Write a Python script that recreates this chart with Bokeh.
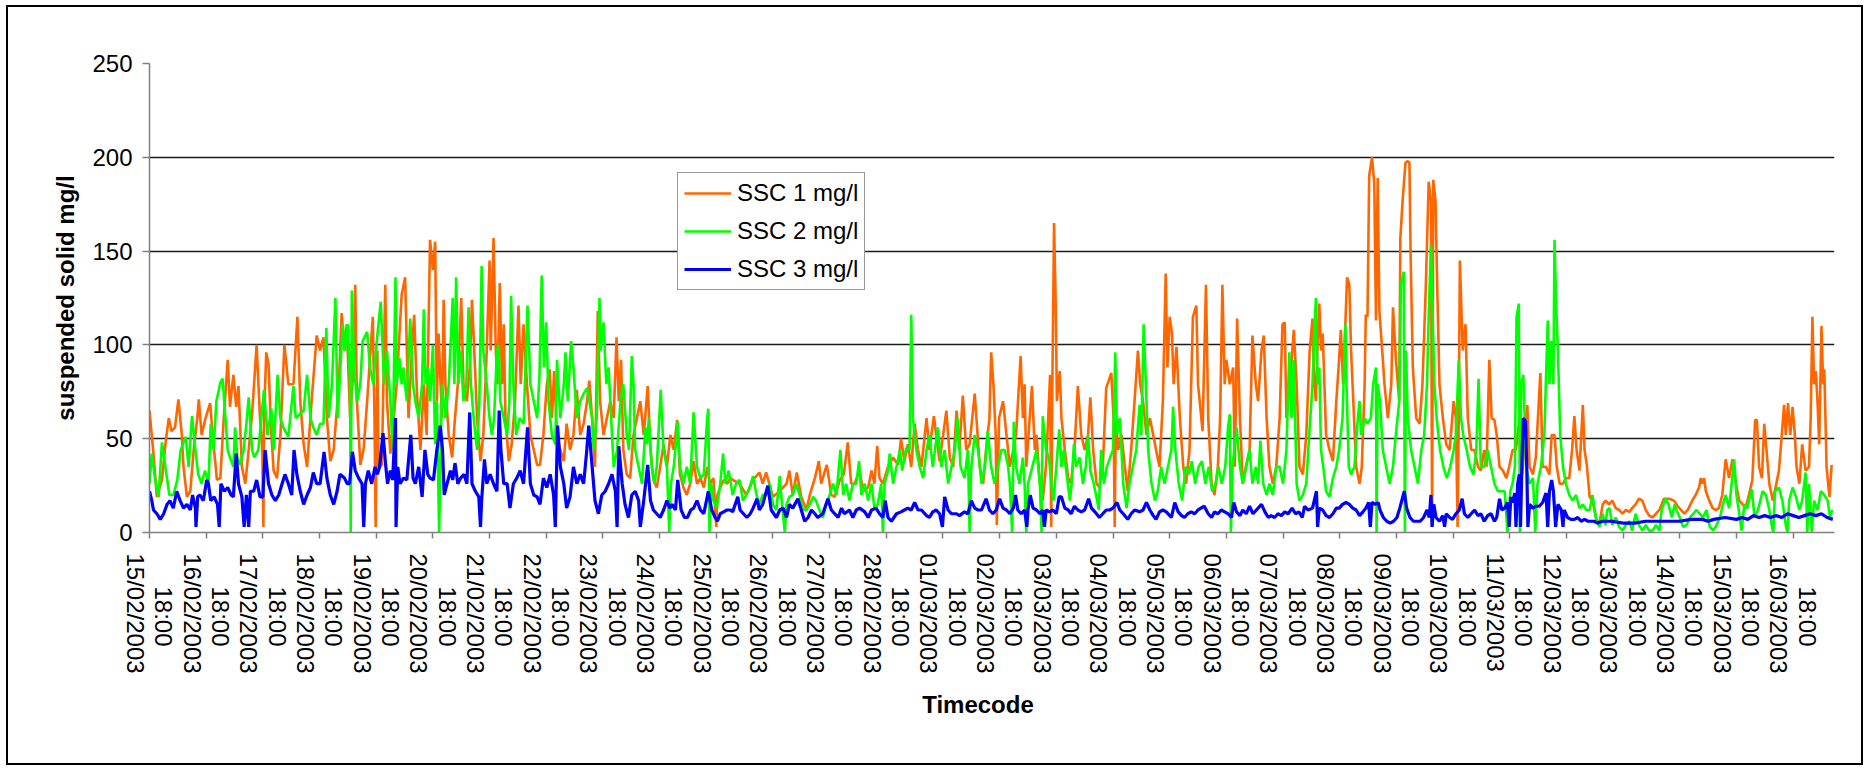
import math
from bokeh.plotting import figure
from bokeh.layouts import column
from bokeh.models import FixedTicker, Legend, LegendItem, Grid, Range1d
from bokeh.embed import file_html
from bokeh.resources import INLINE

# ---------------- data ----------------
day_labels = ["15/02/2003", "16/02/2003", "17/02/2003", "18/02/2003", "19/02/2003",
              "20/02/2003", "21/02/2003", "22/02/2003", "23/02/2003", "24/02/2003",
              "25/02/2003", "26/02/2003", "27/02/2003", "28/02/2003", "01/03/2003",
              "02/03/2003", "03/03/2003", "04/03/2003", "05/03/2003", "06/03/2003",
              "07/03/2003", "08/03/2003", "09/03/2003", "10/03/2003", "11/03/2003",
              "12/03/2003", "13/03/2003", "14/03/2003", "15/03/2003", "16/03/2003"]
hour_label = "18:00"
y_tick_values = [0, 50, 100, 150, 200, 250]
series_names = ["SSC 1 mg/l", "SSC 2 mg/l", "SSC 3 mg/l"]

# (position along the timecode axis, mg/l)
ssc1_samples = [
    (0.00, 65), (0.07, 42), (0.13, 19), (0.22, 28), (0.28, 47), (0.34, 61), (0.39, 54), (0.45, 56), (0.51, 71), (0.57, 52),
    (0.60, 35), (0.66, 19), (0.72, 22), (0.78, 44), (0.84, 60), (0.87, 71), (0.92, 52), (0.98, 60), (1.07, 69), (1.13, 47),
    (1.19, 28), (1.25, 29), (1.31, 61), (1.38, 92), (1.42, 67), (1.48, 84), (1.53, 67), (1.57, 78), (1.63, 35), (1.69, 26),
    (1.75, 44), (1.81, 63), (1.89, 100), (1.95, 61), (1.99, 44), (2.01, 3), (2.02, 61), (2.06, 96), (2.10, 90), (2.14, 58),
    (2.19, 33), (2.25, 29), (2.31, 52), (2.38, 100), (2.45, 79), (2.54, 79), (2.61, 115), (2.66, 70), (2.72, 47), (2.78, 35),
    (2.86, 70), (2.95, 105), (3.01, 97), (3.07, 104), (3.13, 61), (3.19, 38), (3.25, 44), (3.34, 79), (3.39, 117), (3.44, 97),
    (3.48, 111), (3.54, 61), (3.60, 88), (3.63, 132), (3.66, 70), (3.72, 36), (3.78, 45), (3.84, 70), (3.94, 115), (3.97, 61),
    (3.99, 3), (4.01, 61), (4.02, 97), (4.04, 35), (4.10, 36), (4.16, 132), (4.19, 70), (4.25, 42), (4.31, 61), (4.36, 79),
    (4.45, 127), (4.51, 136), (4.57, 61), (4.63, 97), (4.67, 116), (4.72, 74), (4.78, 44), (4.84, 79), (4.89, 52), (4.95, 156),
    (5.00, 140), (5.04, 155), (5.07, 70), (5.10, 106), (5.16, 61), (5.19, 124), (5.22, 79), (5.28, 52), (5.34, 40), (5.39, 61),
    (5.44, 79), (5.50, 125), (5.54, 79), (5.60, 70), (5.65, 88), (5.69, 124), (5.73, 97), (5.78, 61), (5.84, 38), (5.89, 52),
    (5.95, 97), (6.00, 145), (6.02, 97), (6.07, 157), (6.11, 97), (6.14, 79), (6.18, 133), (6.22, 79), (6.25, 111), (6.28, 61),
    (6.34, 38), (6.39, 47), (6.45, 70), (6.51, 121), (6.55, 79), (6.60, 111), (6.66, 79), (6.72, 52), (6.78, 44), (6.84, 36),
    (6.89, 36), (6.95, 52), (7.01, 79), (7.06, 87), (7.10, 61), (7.14, 86), (7.19, 52), (7.25, 44), (7.31, 38), (7.36, 58),
    (7.42, 44), (7.48, 52), (7.54, 76), (7.60, 52), (7.66, 58), (7.72, 70), (7.76, 81), (7.81, 61), (7.86, 35), (7.91, 118),
    (7.95, 70), (8.01, 52), (8.07, 61), (8.13, 70), (8.19, 61), (8.24, 104), (8.28, 70), (8.32, 92), (8.36, 44), (8.42, 31),
    (8.48, 29), (8.54, 52), (8.60, 61), (8.66, 70), (8.72, 52), (8.79, 78), (8.84, 44), (8.89, 28), (8.95, 24), (9.01, 35),
    (9.07, 47), (9.13, 35), (9.19, 52), (9.25, 44), (9.31, 60), (9.36, 31), (9.42, 24), (9.48, 20), (9.54, 26), (9.60, 38),
    (9.66, 26), (9.72, 29), (9.78, 24), (9.84, 35), (9.89, 26), (9.95, 29), (10.00, 3), (10.02, 20), (10.07, 24), (10.13, 28),
    (10.19, 26), (10.25, 29), (10.29, 28), (10.41, 26), (10.53, 20), (10.65, 28), (10.76, 32), (10.82, 26), (10.88, 32), (11.00, 19),
    (11.12, 22), (11.24, 26), (11.29, 33), (11.35, 20), (11.42, 32), (11.50, 19), (11.59, 12), (11.65, 20), (11.74, 29), (11.81, 38),
    (11.85, 26), (11.95, 36), (12.03, 20), (12.09, 19), (12.18, 28), (12.25, 31), (12.32, 48), (12.38, 26), (12.44, 26), (12.53, 33),
    (12.59, 22), (12.68, 24), (12.74, 33), (12.79, 26), (12.84, 46), (12.88, 29), (12.94, 26), (13.03, 35), (13.12, 40), (13.21, 36),
    (13.26, 50), (13.32, 38), (13.38, 47), (13.44, 35), (13.50, 58), (13.56, 44), (13.62, 35), (13.71, 61), (13.76, 44), (13.84, 62),
    (13.88, 52), (13.94, 38), (14.06, 65), (14.12, 40), (14.18, 35), (14.24, 65), (14.29, 44), (14.35, 73), (14.41, 44), (14.47, 47),
    (14.56, 74), (14.65, 35), (14.71, 26), (14.76, 44), (14.82, 61), (14.85, 96), (14.89, 79), (14.93, 52), (14.95, 4), (14.99, 61),
    (15.06, 70), (15.12, 52), (15.18, 35), (15.24, 44), (15.29, 52), (15.37, 94), (15.41, 61), (15.44, 79), (15.47, 35), (15.53, 61),
    (15.57, 78), (15.62, 44), (15.65, 52), (15.71, 26), (15.76, 17), (15.82, 36), (15.89, 84), (15.91, 3), (15.93, 79), (15.96, 165),
    (15.99, 120), (16.01, 70), (16.06, 86), (16.09, 61), (16.15, 44), (16.21, 29), (16.26, 26), (16.32, 44), (16.38, 78), (16.44, 52),
    (16.50, 44), (16.56, 52), (16.60, 72), (16.65, 44), (16.71, 26), (16.76, 24), (16.82, 35), (16.88, 77), (16.97, 85), (17.01, 61),
    (17.03, 3), (17.05, 61), (17.09, 44), (17.15, 52), (17.21, 35), (17.26, 22), (17.32, 44), (17.38, 70), (17.44, 97), (17.48, 79),
    (17.53, 70), (17.59, 52), (17.65, 61), (17.71, 52), (17.76, 44), (17.82, 35), (17.88, 70), (17.93, 138), (17.96, 88), (18.00, 115),
    (18.04, 106), (18.07, 79), (18.12, 99), (18.18, 61), (18.24, 35), (18.29, 26), (18.35, 44), (18.41, 115), (18.47, 121), (18.50, 79),
    (18.53, 70), (18.58, 54), (18.64, 132), (18.68, 61), (18.74, 26), (18.79, 20), (18.85, 35), (18.89, 61), (18.93, 132), (18.97, 79),
    (19.00, 92), (19.06, 79), (19.12, 88), (19.15, 35), (19.19, 114), (19.24, 61), (19.29, 26), (19.35, 36), (19.41, 44), (19.46, 105),
    (19.52, 79), (19.56, 70), (19.62, 97), (19.66, 105), (19.71, 61), (19.76, 35), (19.82, 26), (19.88, 35), (19.94, 61), (19.99, 111),
    (20.03, 112), (20.06, 61), (20.12, 79), (20.19, 108), (20.24, 79), (20.29, 35), (20.35, 31), (20.41, 52), (20.47, 97), (20.52, 114),
    (20.55, 79), (20.58, 70), (20.61, 102), (20.64, 122), (20.67, 97), (20.70, 106), (20.73, 79), (20.76, 52), (20.82, 44), (20.88, 38),
    (20.94, 70), (20.98, 88), (21.02, 108), (21.06, 79), (21.13, 136), (21.17, 132), (21.20, 97), (21.24, 70), (21.29, 35), (21.35, 26),
    (21.39, 35), (21.44, 79), (21.46, 116), (21.49, 115), (21.52, 190), (21.57, 200), (21.61, 186), (21.64, 113), (21.67, 189), (21.70, 118),
    (21.75, 97), (21.79, 79), (21.85, 61), (21.91, 79), (21.94, 120), (21.99, 93), (22.05, 70), (22.07, 157), (22.11, 177), (22.16, 197),
    (22.20, 198), (22.23, 197), (22.25, 150), (22.29, 88), (22.35, 61), (22.41, 58), (22.46, 79), (22.52, 132), (22.57, 187), (22.61, 177),
    (22.63, 3), (22.65, 188), (22.69, 177), (22.72, 132), (22.76, 79), (22.82, 61), (22.88, 47), (22.94, 44), (23.01, 70), (23.05, 61),
    (23.08, 3), (23.10, 61), (23.12, 145), (23.17, 97), (23.22, 111), (23.26, 61), (23.32, 44), (23.38, 44), (23.44, 35), (23.49, 33),
    (23.55, 44), (23.59, 35), (23.64, 92), (23.68, 61), (23.73, 60), (23.77, 52), (23.82, 35), (23.88, 33), (23.94, 29), (23.99, 35),
    (24.05, 44), (24.11, 44), (24.17, 61), (24.22, 31), (24.31, 68), (24.35, 35), (24.41, 31), (24.46, 40), (24.54, 85), (24.58, 35),
    (24.64, 35), (24.70, 31), (24.74, 52), (24.79, 52), (24.83, 35), (24.88, 26), (24.94, 26), (24.99, 29), (25.05, 29), (25.10, 44),
    (25.14, 62), (25.18, 44), (25.23, 33), (25.29, 68), (25.32, 44), (25.36, 36), (25.41, 19), (25.46, 17), (25.52, 8), (25.58, 4),
    (25.64, 15), (25.69, 17), (25.75, 15), (25.81, 17), (25.87, 13), (25.93, 12), (25.99, 10), (26.05, 12), (26.11, 11), (26.16, 13),
    (26.22, 15), (26.28, 18), (26.34, 17), (26.40, 12), (26.46, 9), (26.52, 8), (26.58, 10), (26.64, 12), (26.72, 18), (26.81, 18),
    (26.90, 17), (26.96, 14), (27.02, 12), (27.08, 10), (27.14, 12), (27.22, 17), (27.28, 20), (27.34, 24), (27.37, 29), (27.40, 26),
    (27.43, 29), (27.46, 22), (27.52, 17), (27.58, 13), (27.64, 12), (27.69, 13), (27.75, 20), (27.81, 39), (27.87, 29), (27.93, 39),
    (27.99, 26), (28.05, 17), (28.11, 15), (28.16, 13), (28.22, 20), (28.28, 28), (28.33, 60), (28.36, 60), (28.40, 35), (28.45, 29),
    (28.49, 58), (28.53, 44), (28.58, 26), (28.64, 17), (28.69, 24), (28.75, 33), (28.80, 52), (28.84, 68), (28.87, 52), (28.91, 69),
    (28.95, 52), (28.99, 67), (29.03, 52), (29.06, 35), (29.11, 26), (29.16, 47), (29.22, 33), (29.28, 35), (29.31, 61), (29.34, 115),
    (29.37, 79), (29.40, 86), (29.43, 70), (29.46, 47), (29.50, 110), (29.53, 79), (29.55, 87), (29.59, 35), (29.64, 19), (29.68, 36),
]

ssc2_samples = [
    (0.00, 26), (0.04, 42), (0.10, 28), (0.16, 19), (0.22, 48), (0.28, 35), (0.35, 20), (0.42, 20), (0.49, 28), (0.55, 44),
    (0.64, 51), (0.69, 35), (0.75, 62), (0.81, 44), (0.86, 31), (0.92, 26), (0.98, 33), (1.04, 26), (1.08, 58), (1.13, 44),
    (1.18, 70), (1.25, 80), (1.29, 82), (1.34, 61), (1.38, 44), (1.42, 40), (1.48, 35), (1.51, 56), (1.55, 40), (1.60, 36),
    (1.66, 44), (1.71, 58), (1.75, 72), (1.81, 44), (1.85, 40), (1.92, 44), (2.02, 76), (2.08, 52), (2.15, 66), (2.19, 44),
    (2.26, 84), (2.31, 61), (2.36, 56), (2.45, 51), (2.54, 78), (2.58, 61), (2.65, 63), (2.72, 65), (2.78, 84), (2.84, 61),
    (2.89, 56), (2.95, 52), (3.01, 58), (3.07, 58), (3.12, 109), (3.16, 61), (3.22, 79), (3.28, 125), (3.32, 61), (3.36, 83),
    (3.41, 111), (3.45, 97), (3.50, 111), (3.54, 79), (3.55, 0), (3.57, 129), (3.61, 88), (3.66, 70), (3.72, 79), (3.76, 102),
    (3.84, 107), (3.89, 88), (3.95, 79), (4.01, 102), (4.08, 123), (4.14, 79), (4.19, 97), (4.25, 70), (4.29, 44), (4.34, 136),
    (4.36, 79), (4.41, 93), (4.45, 79), (4.48, 88), (4.54, 70), (4.60, 114), (4.65, 79), (4.69, 70), (4.75, 61), (4.81, 79),
    (4.84, 119), (4.87, 79), (4.91, 88), (4.95, 70), (5.00, 100), (5.04, 47), (5.07, 70), (5.11, 0), (5.16, 79), (5.22, 61),
    (5.28, 79), (5.35, 125), (5.38, 79), (5.41, 136), (5.45, 79), (5.49, 97), (5.54, 70), (5.59, 79), (5.63, 120), (5.67, 79),
    (5.72, 61), (5.78, 44), (5.82, 70), (5.86, 142), (5.89, 97), (5.95, 79), (6.00, 61), (6.04, 52), (6.08, 61), (6.13, 97),
    (6.16, 100), (6.19, 70), (6.25, 61), (6.31, 52), (6.35, 70), (6.38, 126), (6.42, 79), (6.47, 52), (6.53, 61), (6.60, 58),
    (6.67, 121), (6.72, 79), (6.78, 70), (6.84, 61), (6.88, 83), (6.92, 137), (6.96, 88), (7.00, 112), (7.04, 70), (7.10, 52),
    (7.16, 47), (7.19, 92), (7.25, 61), (7.31, 79), (7.34, 96), (7.38, 70), (7.44, 102), (7.48, 88), (7.54, 61), (7.60, 70),
    (7.66, 74), (7.72, 77), (7.76, 70), (7.81, 61), (7.84, 44), (7.89, 61), (7.94, 125), (7.96, 97), (8.01, 112), (8.06, 79),
    (8.10, 88), (8.13, 70), (8.19, 35), (8.25, 44), (8.31, 70), (8.36, 79), (8.42, 52), (8.46, 44), (8.51, 94), (8.54, 79),
    (8.57, 44), (8.63, 35), (8.69, 26), (8.75, 56), (8.78, 47), (8.81, 61), (8.86, 35), (8.91, 26), (8.95, 35), (9.02, 76),
    (9.07, 44), (9.13, 35), (9.17, 0), (9.20, 26), (9.25, 35), (9.32, 59), (9.36, 35), (9.42, 26), (9.48, 35), (9.54, 26),
    (9.60, 64), (9.66, 35), (9.72, 29), (9.78, 31), (9.84, 61), (9.86, 66), (9.88, 0), (9.91, 26), (9.95, 17), (10.01, 13),
    (10.07, 26), (10.12, 42), (10.16, 26), (10.22, 33), (10.29, 20), (10.35, 26), (10.41, 28), (10.47, 17), (10.53, 20), (10.59, 24),
    (10.65, 30), (10.71, 20), (10.76, 15), (10.82, 20), (10.88, 20), (10.94, 26), (11.00, 15), (11.06, 12), (11.12, 30), (11.16, 15),
    (11.21, 0), (11.24, 15), (11.29, 19), (11.35, 20), (11.41, 26), (11.47, 20), (11.53, 12), (11.59, 12), (11.65, 15), (11.71, 19),
    (11.76, 17), (11.82, 12), (11.88, 8), (11.94, 15), (12.00, 20), (12.06, 26), (12.12, 20), (12.19, 44), (12.24, 20), (12.29, 26),
    (12.35, 17), (12.41, 26), (12.47, 26), (12.52, 38), (12.56, 20), (12.62, 26), (12.68, 17), (12.74, 26), (12.79, 13), (12.85, 15),
    (12.91, 26), (12.94, 0), (12.97, 26), (13.03, 33), (13.06, 42), (13.12, 26), (13.18, 35), (13.24, 44), (13.28, 33), (13.35, 45),
    (13.41, 44), (13.44, 116), (13.47, 61), (13.53, 44), (13.59, 35), (13.65, 29), (13.71, 44), (13.76, 52), (13.82, 35), (13.91, 56),
    (13.97, 35), (14.03, 44), (14.09, 26), (14.15, 35), (14.21, 44), (14.26, 61), (14.31, 35), (14.38, 29), (14.44, 44), (14.47, 0),
    (14.50, 35), (14.56, 52), (14.62, 44), (14.68, 26), (14.74, 35), (14.79, 54), (14.85, 35), (14.91, 26), (14.97, 35), (15.03, 44),
    (15.09, 44), (15.15, 35), (15.18, 26), (15.22, 0), (15.25, 59), (15.29, 35), (15.35, 26), (15.41, 40), (15.44, 26), (15.47, 0),
    (15.50, 26), (15.56, 33), (15.65, 44), (15.71, 26), (15.74, 0), (15.76, 62), (15.82, 44), (15.87, 40), (15.91, 26), (15.95, 17),
    (16.00, 35), (16.05, 55), (16.09, 35), (16.13, 44), (16.19, 29), (16.24, 17), (16.27, 26), (16.31, 47), (16.35, 35), (16.41, 40),
    (16.47, 26), (16.52, 35), (16.56, 52), (16.60, 33), (16.66, 26), (16.72, 17), (16.75, 12), (16.79, 44), (16.84, 26), (16.89, 35),
    (16.95, 40), (17.00, 44), (17.04, 96), (17.07, 52), (17.12, 61), (17.18, 26), (17.24, 13), (17.29, 26), (17.35, 35), (17.41, 44),
    (17.47, 68), (17.50, 52), (17.54, 111), (17.58, 79), (17.62, 44), (17.68, 26), (17.74, 17), (17.79, 22), (17.85, 35), (17.91, 26),
    (17.97, 35), (18.03, 44), (18.06, 67), (18.10, 44), (18.16, 26), (18.22, 17), (18.28, 35), (18.34, 31), (18.39, 38), (18.45, 26),
    (18.51, 35), (18.57, 38), (18.63, 26), (18.69, 35), (18.75, 22), (18.81, 26), (18.86, 35), (18.92, 26), (18.98, 35), (19.03, 56),
    (19.06, 63), (19.08, 0), (19.11, 35), (19.18, 56), (19.24, 35), (19.29, 26), (19.35, 35), (19.41, 44), (19.46, 26), (19.52, 35),
    (19.56, 26), (19.60, 49), (19.65, 26), (19.71, 20), (19.76, 26), (19.82, 20), (19.88, 35), (19.94, 35), (20.00, 26), (20.06, 44),
    (20.11, 96), (20.15, 61), (20.19, 92), (20.24, 26), (20.29, 17), (20.35, 20), (20.41, 26), (20.47, 56), (20.52, 79), (20.55, 106),
    (20.58, 125), (20.61, 79), (20.64, 88), (20.67, 44), (20.71, 35), (20.76, 22), (20.82, 19), (20.88, 29), (20.94, 35), (20.99, 44),
    (21.05, 61), (21.10, 111), (21.12, 79), (21.16, 35), (21.20, 31), (21.26, 35), (21.32, 61), (21.35, 70), (21.38, 52), (21.44, 61),
    (21.49, 58), (21.55, 61), (21.59, 79), (21.64, 88), (21.65, 0), (21.67, 79), (21.71, 70), (21.76, 44), (21.82, 35), (21.88, 26),
    (21.94, 35), (21.99, 52), (22.05, 70), (22.08, 132), (22.13, 139), (22.15, 0), (22.17, 97), (22.20, 61), (22.26, 44), (22.32, 35),
    (22.38, 26), (22.44, 44), (22.49, 52), (22.54, 79), (22.57, 115), (22.61, 153), (22.64, 115), (22.67, 79), (22.71, 61), (22.77, 44),
    (22.83, 35), (22.89, 29), (22.95, 35), (23.01, 44), (23.05, 52), (23.10, 92), (23.14, 61), (23.18, 52), (23.24, 44), (23.30, 35),
    (23.36, 31), (23.41, 44), (23.45, 82), (23.49, 35), (23.55, 35), (23.61, 44), (23.67, 35), (23.73, 26), (23.79, 22), (23.85, 22),
    (23.91, 22), (23.96, 0), (24.01, 22), (24.05, 26), (24.09, 35), (24.12, 115), (24.16, 122), (24.18, 0), (24.20, 79), (24.24, 84),
    (24.29, 35), (24.35, 26), (24.41, 29), (24.45, 0), (24.49, 26), (24.55, 35), (24.61, 52), (24.67, 113), (24.70, 79), (24.73, 102),
    (24.77, 79), (24.79, 156), (24.82, 120), (24.85, 97), (24.89, 52), (24.94, 35), (24.99, 26), (25.05, 20), (25.11, 17), (25.17, 20),
    (25.23, 13), (25.29, 15), (25.35, 12), (25.41, 12), (25.46, 20), (25.52, 8), (25.58, 3), (25.64, 10), (25.69, 4), (25.72, 12),
    (25.76, 13), (25.81, 4), (25.87, 8), (25.93, 3), (25.99, 1), (26.05, 4), (26.11, 6), (26.16, 1), (26.22, 10), (26.28, 4),
    (26.34, 1), (26.40, 4), (26.46, 1), (26.52, 1), (26.58, 4), (26.64, 1), (26.68, 12), (26.75, 18), (26.80, 15), (26.86, 8),
    (26.91, 15), (26.94, 12), (27.00, 8), (27.06, 3), (27.12, 4), (27.18, 8), (27.24, 10), (27.29, 12), (27.35, 10), (27.41, 8),
    (27.47, 12), (27.53, 3), (27.59, 1), (27.65, 4), (27.71, 8), (27.76, 15), (27.81, 20), (27.87, 13), (27.96, 39), (28.00, 20),
    (28.05, 10), (28.09, 1), (28.14, 15), (28.19, 13), (28.27, 23), (28.32, 8), (28.38, 12), (28.46, 22), (28.52, 20), (28.58, 12),
    (28.62, 4), (28.65, 0), (28.68, 22), (28.75, 24), (28.81, 17), (28.87, 4), (28.90, 0), (28.93, 17), (28.99, 24), (29.05, 19),
    (29.11, 12), (29.16, 17), (29.22, 32), (29.25, 0), (29.28, 26), (29.33, 0), (29.37, 17), (29.43, 12), (29.49, 22), (29.55, 20),
    (29.61, 17), (29.65, 8), (29.69, 12),
]

ssc3_samples = [
    (0.00, 22), (0.04, 17), (0.07, 12), (0.13, 10), (0.19, 7), (0.25, 10), (0.31, 15), (0.36, 17), (0.42, 13), (0.48, 22),
    (0.54, 17), (0.60, 13), (0.66, 15), (0.72, 12), (0.76, 20), (0.81, 13), (0.82, 3), (0.85, 19), (0.89, 20), (0.95, 17),
    (1.01, 28), (1.04, 26), (1.08, 17), (1.14, 19), (1.20, 15), (1.23, 3), (1.26, 26), (1.32, 22), (1.38, 24), (1.44, 20),
    (1.48, 19), (1.53, 42), (1.57, 26), (1.63, 19), (1.67, 3), (1.71, 20), (1.75, 3), (1.78, 22), (1.84, 22), (1.89, 28),
    (1.95, 19), (2.00, 19), (2.04, 44), (2.10, 26), (2.16, 20), (2.22, 17), (2.28, 20), (2.34, 26), (2.39, 31), (2.45, 26),
    (2.51, 20), (2.55, 44), (2.60, 31), (2.66, 22), (2.72, 15), (2.78, 20), (2.84, 24), (2.89, 32), (2.95, 26), (3.01, 26),
    (3.08, 43), (3.13, 29), (3.19, 20), (3.25, 15), (3.31, 22), (3.36, 31), (3.44, 29), (3.49, 26), (3.53, 26), (3.58, 43),
    (3.63, 33), (3.69, 29), (3.75, 26), (3.78, 3), (3.81, 26), (3.86, 33), (3.92, 26), (3.98, 35), (4.02, 31), (4.06, 35),
    (4.12, 53), (4.16, 38), (4.20, 26), (4.25, 33), (4.29, 28), (4.34, 61), (4.35, 3), (4.38, 35), (4.42, 26), (4.48, 29),
    (4.54, 28), (4.61, 52), (4.65, 29), (4.69, 26), (4.75, 35), (4.81, 19), (4.86, 44), (4.91, 31), (4.95, 29), (5.01, 28),
    (5.07, 44), (5.13, 57), (5.17, 44), (5.20, 20), (5.25, 26), (5.31, 33), (5.35, 28), (5.39, 37), (5.44, 26), (5.49, 29),
    (5.55, 31), (5.60, 26), (5.65, 64), (5.69, 26), (5.75, 22), (5.81, 19), (5.84, 3), (5.86, 17), (5.91, 39), (5.95, 26),
    (6.01, 31), (6.07, 26), (6.13, 22), (6.17, 65), (6.20, 44), (6.25, 26), (6.31, 26), (6.36, 13), (6.42, 26), (6.48, 29),
    (6.54, 33), (6.60, 26), (6.67, 56), (6.72, 26), (6.78, 20), (6.84, 19), (6.89, 15), (6.95, 29), (7.01, 24), (7.07, 31),
    (7.13, 20), (7.16, 3), (7.20, 57), (7.25, 35), (7.31, 26), (7.36, 13), (7.42, 19), (7.48, 35), (7.54, 26), (7.60, 31),
    (7.66, 26), (7.71, 42), (7.75, 57), (7.81, 35), (7.86, 17), (7.92, 10), (7.98, 20), (8.04, 22), (8.10, 26), (8.16, 31),
    (8.22, 22), (8.25, 3), (8.28, 46), (8.34, 26), (8.39, 15), (8.45, 8), (8.51, 20), (8.57, 22), (8.63, 17), (8.66, 3),
    (8.72, 17), (8.79, 36), (8.84, 17), (8.89, 12), (8.95, 10), (9.01, 8), (9.07, 12), (9.13, 17), (9.18, 13), (9.22, 15),
    (9.28, 12), (9.32, 28), (9.38, 12), (9.44, 8), (9.49, 8), (9.55, 12), (9.60, 13), (9.66, 17), (9.72, 12), (9.78, 10),
    (9.86, 22), (9.92, 12), (9.98, 8), (10.02, 6), (10.07, 10), (10.13, 11), (10.19, 12), (10.25, 12), (10.29, 11), (10.38, 19),
    (10.42, 12), (10.48, 10), (10.54, 8), (10.60, 10), (10.65, 13), (10.72, 18), (10.76, 12), (10.82, 15), (10.91, 25), (10.97, 12),
    (11.06, 8), (11.12, 12), (11.18, 13), (11.24, 8), (11.29, 15), (11.35, 13), (11.44, 18), (11.50, 12), (11.56, 6), (11.62, 8),
    (11.68, 12), (11.74, 10), (11.79, 8), (11.88, 10), (11.97, 18), (12.03, 12), (12.09, 10), (12.15, 8), (12.21, 13), (12.26, 10),
    (12.35, 12), (12.41, 8), (12.47, 12), (12.53, 13), (12.62, 11), (12.68, 8), (12.74, 12), (12.82, 13), (12.88, 10), (12.94, 8),
    (12.98, 17), (13.03, 8), (13.09, 6), (13.18, 10), (13.26, 11), (13.32, 12), (13.38, 13), (13.44, 12), (13.50, 16), (13.56, 12),
    (13.62, 12), (13.71, 9), (13.76, 8), (13.82, 11), (13.88, 12), (13.94, 10), (13.99, 3), (14.03, 19), (14.09, 12), (14.15, 10),
    (14.24, 10), (14.29, 9), (14.38, 11), (14.44, 10), (14.50, 17), (14.56, 13), (14.62, 12), (14.68, 12), (14.76, 18), (14.82, 12),
    (14.88, 10), (14.94, 12), (15.00, 18), (15.06, 13), (15.12, 12), (15.18, 10), (15.24, 13), (15.28, 20), (15.32, 12), (15.38, 10),
    (15.44, 12), (15.48, 3), (15.50, 12), (15.54, 20), (15.59, 13), (15.65, 12), (15.71, 10), (15.76, 12), (15.79, 3), (15.82, 12),
    (15.88, 11), (15.94, 12), (16.00, 10), (16.05, 19), (16.09, 19), (16.15, 13), (16.21, 12), (16.26, 10), (16.32, 14), (16.38, 12),
    (16.44, 11), (16.50, 12), (16.57, 18), (16.62, 13), (16.68, 11), (16.76, 8), (16.82, 10), (16.88, 12), (16.94, 12), (17.00, 13),
    (17.07, 16), (17.12, 12), (17.18, 10), (17.26, 7), (17.32, 10), (17.38, 12), (17.47, 11), (17.53, 12), (17.59, 16), (17.65, 12),
    (17.71, 9), (17.76, 7), (17.82, 11), (17.88, 12), (17.94, 11), (18.03, 8), (18.09, 16), (18.15, 11), (18.21, 9), (18.26, 8),
    (18.32, 10), (18.38, 11), (18.44, 10), (18.50, 12), (18.61, 14), (18.68, 10), (18.74, 8), (18.79, 11), (18.85, 10), (18.91, 12),
    (18.97, 11), (19.03, 10), (19.09, 8), (19.13, 16), (19.18, 11), (19.24, 9), (19.29, 12), (19.35, 10), (19.41, 14), (19.47, 10),
    (19.53, 12), (19.62, 15), (19.68, 11), (19.74, 8), (19.79, 9), (19.85, 8), (19.91, 10), (19.97, 9), (20.03, 11), (20.09, 10),
    (20.16, 13), (20.22, 10), (20.28, 11), (20.34, 8), (20.38, 14), (20.44, 12), (20.52, 13), (20.59, 22), (20.61, 3), (20.64, 13),
    (20.70, 12), (20.76, 9), (20.82, 8), (20.88, 10), (20.94, 13), (20.99, 13), (21.05, 15), (21.11, 16), (21.17, 15), (21.23, 13),
    (21.29, 12), (21.35, 9), (21.41, 11), (21.46, 13), (21.51, 16), (21.54, 3), (21.57, 16), (21.63, 15), (21.68, 16), (21.71, 12),
    (21.77, 8), (21.83, 6), (21.89, 5), (21.95, 6), (22.01, 8), (22.06, 13), (22.14, 22), (22.18, 13), (22.24, 8), (22.30, 6),
    (22.36, 6), (22.42, 6), (22.48, 8), (22.54, 12), (22.58, 8), (22.61, 20), (22.63, 3), (22.66, 15), (22.70, 8), (22.76, 6),
    (22.82, 9), (22.85, 3), (22.88, 10), (22.94, 8), (22.99, 7), (23.05, 10), (23.11, 12), (23.16, 18), (23.20, 10), (23.26, 8),
    (23.32, 10), (23.38, 12), (23.44, 9), (23.49, 10), (23.55, 6), (23.61, 9), (23.67, 10), (23.73, 6), (23.77, 8), (23.82, 18),
    (23.86, 12), (23.91, 13), (23.96, 16), (23.99, 3), (24.02, 19), (24.05, 16), (24.09, 21), (24.11, 3), (24.14, 26), (24.17, 31),
    (24.19, 3), (24.22, 44), (24.24, 61), (24.28, 59), (24.30, 35), (24.32, 3), (24.35, 15), (24.41, 13), (24.46, 14), (24.52, 14),
    (24.58, 16), (24.64, 21), (24.67, 3), (24.70, 22), (24.74, 28), (24.77, 22), (24.81, 3), (24.85, 15), (24.91, 12), (24.94, 3),
    (24.96, 12), (25.02, 8), (25.08, 7), (25.14, 7), (25.20, 8), (25.26, 6), (25.32, 7), (25.38, 6), (25.44, 6), (25.49, 6),
    (25.55, 5), (25.64, 6), (25.80, 6), (26.00, 5), (26.20, 5), (26.40, 6), (26.60, 6), (26.80, 6), (27.00, 6), (27.20, 7),
    (27.40, 7), (27.50, 6), (27.60, 7), (27.80, 8), (28.00, 7), (28.10, 8), (28.20, 7), (28.30, 9), (28.40, 8), (28.50, 9),
    (28.60, 8), (28.70, 9), (28.80, 8), (28.90, 10), (29.00, 9), (29.10, 8), (29.20, 9), (29.30, 10), (29.40, 9), (29.50, 10),
    (29.60, 8), (29.70, 7),
]

series_colors = ["#FF6600", "#00FF00", "#0000FF"]
series_widths = [2.6, 2.6, 3.2]

FONT = "Liberation Sans"
X_END = 29.73

# ---------------- main chart (with the 18:00 labels) ----------------
p = figure(width=1853, height=643, output_backend="svg", toolbar_location=None,
           x_range=Range1d(0, X_END), y_range=Range1d(0, 250),
           min_border_left=141, min_border_right=27, min_border_top=56, min_border_bottom=118,
           background_fill_color="white", border_fill_color="white")
p.outline_line_color = None

# y axis
p.yaxis.ticker = FixedTicker(ticks=y_tick_values)
p.yaxis.axis_label = "suspended solid mg/l"
p.yaxis.axis_label_text_font = FONT
p.yaxis.axis_label_text_font_style = "bold"
p.yaxis.axis_label_text_font_size = "24px"
p.yaxis.axis_label_text_color = "black"
p.yaxis.axis_label_standoff = 10
p.yaxis.major_label_text_font = FONT
p.yaxis.major_label_text_font_size = "24px"
p.yaxis.major_label_text_color = "black"
p.yaxis.major_label_standoff = 10
p.yaxis.major_tick_out = 7
p.yaxis.major_tick_in = 0
p.yaxis.minor_tick_line_color = None
p.yaxis.axis_line_color = "#808080"
p.yaxis.axis_line_width = 1.5
p.yaxis.major_tick_line_color = "#808080"
p.yaxis.major_tick_line_width = 1.5

# x axis: line, one tick per day slot, and the 18:00 labels (centred lower, like the original)
hour_pos = [k + 0.25 for k in range(len(day_labels))]
base_axis = p.xaxis[0]
base_axis.ticker = FixedTicker(ticks=hour_pos, minor_ticks=list(range(len(day_labels))))
base_axis.major_label_overrides = {x: hour_label for x in hour_pos}
base_axis.major_label_orientation = "vertical"
base_axis.major_label_text_font = FONT
base_axis.major_label_text_font_size = "24px"
base_axis.major_label_text_color = "black"
base_axis.major_label_standoff = 48
base_axis.major_tick_out = 6
base_axis.major_tick_in = 0
base_axis.major_tick_line_color = None
base_axis.minor_tick_out = 6
base_axis.minor_tick_in = 0
base_axis.minor_tick_line_color = "#808080"
base_axis.minor_tick_line_width = 1.5
base_axis.axis_line_color = "#808080"
base_axis.axis_line_width = 1.5

# grid
p.xgrid.visible = False
p.ygrid.ticker = FixedTicker(ticks=[t for t in y_tick_values if 0 < t < 250])
p.ygrid.grid_line_color = "#1a1a1a"
p.ygrid.grid_line_width = 1.3
p.add_layout(Grid(dimension=1, ticker=FixedTicker(ticks=[250]),
                  grid_line_color="#e6e6e6", grid_line_width=1.5))

# series
renderers = []
for samples, color, width in zip([ssc1_samples, ssc2_samples, ssc3_samples], series_colors, series_widths):
    xs = [s[0] for s in samples]
    ys = [s[1] for s in samples]
    r = p.line(xs, ys, line_color=color, line_width=width)
    renderers.append(r)

# legend
legend = Legend(items=[LegendItem(label=n, renderers=[r]) for n, r in zip(series_names, renderers)],
                location=(528, 242))
legend.label_text_font = FONT
legend.label_text_font_size = "24px"
legend.label_text_color = "black"
legend.glyph_width = 47
legend.glyph_height = 28
legend.label_height = 28
legend.label_standoff = 6
legend.spacing = 10
legend.padding = 6
legend.margin = 0
legend.border_line_color = "#333333"
legend.border_line_width = 1.2
legend.background_fill_color = "white"
legend.background_fill_alpha = 1.0
p.add_layout(legend)

# ---------------- date labels and axis title ----------------
# same scale, starting half a day-slot earlier so that the first date fits; transparent and
# pulled up so that the dates sit beside the 18:00 labels
labels_fig = figure(width=1853, height=215, output_backend="svg", toolbar_location=None,
                    x_range=Range1d(-0.5, X_END), y_range=Range1d(0, 1), y_axis_location=None,
                    min_border_left=113, min_border_right=27, min_border_top=0, min_border_bottom=214,
                    background_fill_color=None, border_fill_color=None)
labels_fig.outline_line_color = None
labels_fig.xgrid.visible = False
labels_fig.ygrid.visible = False
labels_fig.styles = {"margin-top": "-102px"}

for fig in (p, labels_fig):
    if "frame_align" in fig.properties():
        fig.frame_align = False

date_pos = [k - 0.25 for k in range(len(day_labels))]
label_axis = labels_fig.xaxis[0]
label_axis.ticker = FixedTicker(ticks=date_pos)
label_axis.major_label_overrides = {x: d for x, d in zip(date_pos, day_labels)}
label_axis.major_label_orientation = "vertical"
label_axis.major_label_text_font = FONT
label_axis.major_label_text_font_size = "24px"
label_axis.major_label_text_color = "black"
label_axis.major_label_standoff = 4
label_axis.axis_line_color = None
label_axis.major_tick_line_color = None
label_axis.minor_tick_line_color = None
label_axis.major_tick_out = 0
label_axis.major_tick_in = 0
label_axis.axis_label = "Timecode"
label_axis.axis_label_text_font = FONT
label_axis.axis_label_text_font_style = "bold"
label_axis.axis_label_text_font_size = "24px"
label_axis.axis_label_text_color = "black"
label_axis.axis_label_standoff = 14

layout = column(p, labels_fig, spacing=0)
layout.styles = {"border": "2px solid #000000", "margin": "5px 0px 0px 6px"}

open("out.html", "w").write(file_html(layout, INLINE))
